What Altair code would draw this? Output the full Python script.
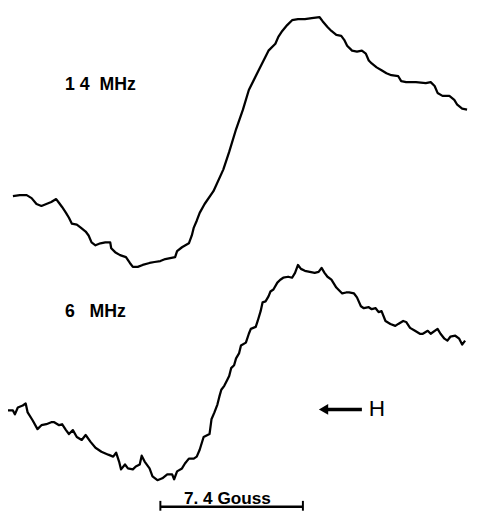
import altair as alt
import pandas as pd

# 14 MHz trace (field position, signal)
x14 = [13, 20, 27, 32, 37, 42, 47, 52, 57, 60,
       63, 67, 70, 73, 78, 82, 87, 90, 93, 97,
       102, 107, 112, 113, 117, 122, 128, 132, 135, 140,
       145, 152, 157, 163, 168, 173, 178, 180, 185, 192,
       195, 197, 200, 203, 208, 217, 227, 233, 240, 247,
       253, 263, 273, 280, 283, 287, 292, 297, 303, 310,
       317, 325, 328, 333, 337, 342, 347, 350, 353, 358,
       363, 368, 372, 375, 378, 383, 388, 393, 398, 405,
       408, 413, 423, 433, 438, 442, 445, 450, 457, 462,
       465, 470, 475]
y14 = [195, 194, 194, 197, 203, 205, 203, 201, 198, 202,
       206, 212, 217, 223, 224, 227, 231, 235, 242, 245,
       243, 242, 242, 248, 252, 255, 257, 263, 267, 267,
       265, 263, 262, 261, 259, 258, 257, 251, 247, 243,
       235, 227, 220, 212, 203, 190, 168, 150, 127, 107,
       87, 67, 47, 40, 33, 27, 21, 16, 15, 15,
       14, 13, 17, 23, 27, 31, 32, 36, 42, 47,
       48, 47, 50, 57, 60, 64, 67, 70, 72, 73,
       78, 79, 79, 80, 79, 83, 90, 93, 93, 97,
       102, 106, 107]

# 6 MHz trace
x6 = [8, 13, 15, 18, 23, 26, 28, 33, 38, 42,
      47, 52, 55, 60, 63, 67, 70, 74, 78, 83,
      87, 92, 97, 103, 110, 115, 118, 121, 123, 127,
      130, 135, 138, 142, 144, 147, 152, 155, 160, 165,
      170, 175, 177, 180, 185, 188, 192, 197, 200, 203,
      207, 213, 215, 218, 221, 223, 225, 228, 231, 233,
      235, 238, 240, 243, 245, 250, 253, 255, 260, 262,
      265, 267, 270, 273, 275, 278, 282, 285, 288, 293,
      297, 300, 303, 306, 310, 315, 320, 324, 327, 330,
      333, 337, 342, 345, 348, 352, 355, 360, 363, 367,
      370, 375, 378, 382, 385, 388, 392, 397, 402, 405,
      410, 413, 417, 422, 427, 430, 435, 438, 445, 448,
      452, 455, 458, 463, 467, 470, 473]
y6 = [413, 413, 417, 410, 408, 406, 415, 423, 432, 428,
      427, 425, 425, 428, 427, 433, 437, 433, 440, 443,
      438, 445, 451, 455, 458, 460, 456, 465, 473, 468,
      472, 473, 470, 468, 459, 465, 472, 480, 484, 482,
      478, 478, 483, 475, 472, 467, 462, 462, 460, 453,
      440, 437, 422, 415, 407, 399, 392, 388, 382, 378,
      370, 367, 360, 355, 347, 344, 335, 330, 328, 322,
      312, 303, 302, 297, 292, 290, 283, 280, 278, 277,
      278, 273, 265, 269, 271, 272, 273, 272, 268, 273,
      277, 280, 288, 291, 294, 293, 293, 294, 298, 307,
      309, 308, 310, 309, 313, 312, 322, 325, 327, 325,
      322, 323, 329, 332, 335, 335, 332, 335, 330, 335,
      340, 342, 338, 337, 340, 346, 342]

NB = "\u00a0"
labels = ["1" + NB + "4" + NB * 2 + "MHz", "6" + NB * 3 + "MHz"]
label_x = [66, 66]
label_y = [82, 313]

bar_label = "7." + NB + "4" + NB + "Gouss"
bar_x = [163, 308]
bar_y = 511

arrow_x = [329, 368]
arrow_y = 412

traces = pd.concat([
    pd.DataFrame({"field": x14, "signal": y14, "trace": "14 MHz", "i": range(len(x14))}),
    pd.DataFrame({"field": x6, "signal": y6, "trace": "6 MHz", "i": range(len(x6))}),
])

W, H = 471, 508
xs = alt.Scale(domain=[8, 479], nice=False, zero=False)
ys = alt.Scale(domain=[516, 8], nice=False, zero=False)
X = lambda f: alt.X(f, type="quantitative", scale=xs, axis=None)
Y = lambda f: alt.Y(f, type="quantitative", scale=ys, axis=None)

lines = alt.Chart(traces).mark_line(color="black", strokeWidth=2.3, strokeJoin="round").encode(
    x=X("field"), y=Y("signal"), detail="trace:N", order="i:Q")

lab_df = pd.DataFrame({"x": label_x, "y": label_y, "t": labels})
labs = alt.Chart(lab_df).mark_text(align="left", baseline="middle", font="Liberation Sans",
                                   fontWeight="bold", fontSize=18, color="black").encode(
    x=X("x"), y=Y("y"), text="t:N")

bar_df = pd.DataFrame({"x": [bar_x[0]], "x2": [bar_x[1]], "y": [bar_y]})
bar = alt.Chart(bar_df).mark_rule(color="black", strokeWidth=2.5).encode(
    x=X("x"), x2="x2", y=Y("y"))
ticks_df = pd.DataFrame({"x": bar_x, "y": [bar_y - 6] * 2, "y2": [bar_y + 4] * 2})
ticks = alt.Chart(ticks_df).mark_rule(color="black", strokeWidth=2).encode(
    x=X("x"), y=Y("y"), y2="y2")
bar_txt = alt.Chart(pd.DataFrame({"x": [187], "y": [bar_y - 8],
                                  "t": [bar_label]})).mark_text(
    font="Liberation Sans", fontWeight="bold", fontSize=17.5, color="black",
    baseline="middle", align="left").encode(x=X("x"), y=Y("y"), text="t:N")

arr_df = pd.DataFrame({"x": [arrow_x[0]], "x2": [arrow_x[1]], "y": [arrow_y]})
arr_line = alt.Chart(arr_df).mark_rule(color="black", strokeWidth=3.5).encode(
    x=X("x"), x2="x2", y=Y("y"))
head = alt.Chart(pd.DataFrame({"x": [arrow_x[0]], "y": [arrow_y]})).mark_point(
    shape="triangle-left", filled=True, color="black", size=120, opacity=1).encode(
    x=X("x"), y=Y("y"))
h_txt = alt.Chart(pd.DataFrame({"x": [375], "y": [arrow_y], "t": ["H"]})).mark_text(
    font="Liberation Sans", fontSize=23, color="black", align="left", baseline="middle").encode(
    x=X("x"), y=Y("y"), text="t:N")

chart = alt.layer(lines, labs, bar, ticks, bar_txt, arr_line, head, h_txt).properties(
    width=W, height=H, autosize=alt.AutoSizeParams(type="none"), padding=0,
    background="white").configure_view(stroke=None)

chart.save("out.html", embed_options={"renderer": "svg", "actions": False})
